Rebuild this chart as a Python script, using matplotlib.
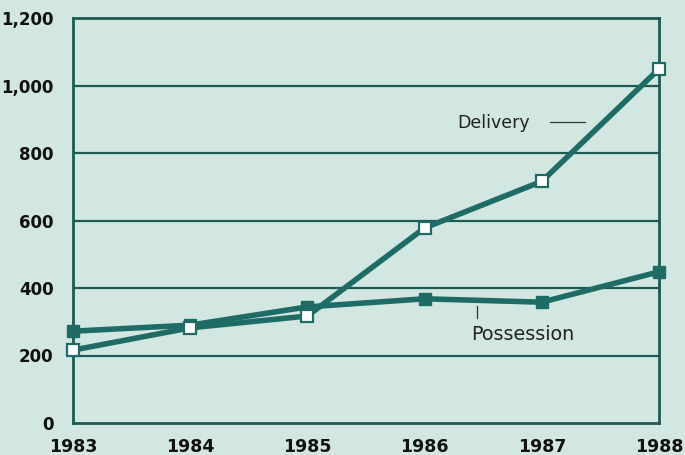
import matplotlib
matplotlib.use("Agg")
import matplotlib.pyplot as plt

years = [1983, 1984, 1985, 1986, 1987, 1988]
delivery = [216, 282, 317, 578, 716, 1049]
possession = [272, 290, 344, 368, 358, 448]
y_ticks = [0, 200, 400, 600, 800, 1000, 1200]
y_tick_labels = ["0", "200", "400", "600", "800", "1,000", "1,200"]

bg = "#d3e7e2"
teal = "#1f6c66"
grid = "#1d5a52"

plt.rcParams["font.family"] = ["DejaVu Sans"]

fig = plt.figure(figsize=(6.85, 4.55), dpi=100, facecolor=bg)
ax = fig.add_axes([73 / 685, 32 / 455, 586 / 685, 405 / 455])
ax.set_facecolor(bg)

ax.set_xlim(1983, 1988)
ax.set_ylim(0, 1200)

for v in y_ticks[1:-1]:
    ax.axhline(v, color=grid, lw=1.6, zorder=1)

ax.plot(years, possession, color=teal, lw=4, marker="s", ms=8,
        mfc=teal, mec=teal, zorder=3, clip_on=False)
ax.plot(years, delivery, color=teal, lw=4, marker="s", ms=9,
        mfc="white", mec=teal, mew=1.6, zorder=4, clip_on=False)

for s in ax.spines.values():
    s.set_color(grid)
    s.set_linewidth(2)

ax.set_xticks(years)
ax.set_xticklabels([str(y) for y in years], fontsize=12.5, fontweight="bold")
ax.set_yticks(y_ticks)
ax.set_yticklabels(y_tick_labels, fontsize=12, fontweight="bold")
ax.tick_params(length=0, colors="#111111")
ax.tick_params(axis="y", pad=14)
ax.tick_params(axis="x", pad=11)

# series labels
ax.text(1986.28, 889, "Delivery", fontsize=12.5, color="#222222",
        ha="left", va="center")
ax.plot([1987.07, 1987.37], [892, 892], color="#333333", lw=0.9)
ax.text(1986.40, 261, "Possession", fontsize=13.8, color="#222222",
        ha="left", va="center")
ax.plot([1986.45, 1986.45], [311, 347], color="#333333", lw=0.9)

fig.savefig("out.png", dpi=100, facecolor=bg)
